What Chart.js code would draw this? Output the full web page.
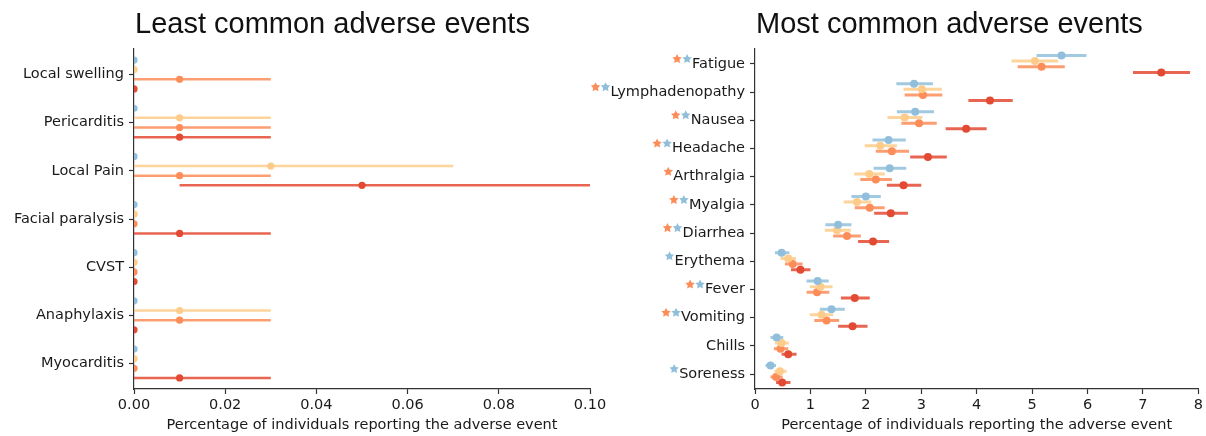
<!DOCTYPE html>
<html>
<head>
<meta charset="utf-8">
<script src="https://cdn.jsdelivr.net/npm/chart.js@4.4.1/dist/chart.umd.min.js"></script>
<style>
    html, body { margin: 0; padding: 0; background: #fff; }
    #wrap { position: relative; width: 1206px; height: 436px; overflow: hidden; }
    .panel { position: absolute; top: 0; }
    #leftPanel { left: 0; }
    #rightPanel { left: 580px; }
</style>
</head>
<body>
<div id="wrap">
    <div class="panel" id="leftPanel"><canvas id="leastChart" width="610" height="436"></canvas></div>
    <div class="panel" id="rightPanel"><canvas id="mostChart" width="626" height="436"></canvas></div>
</div>
<script>
// Least common adverse events (values = percentage, lo/hi = interval)
const leastCats = ['Local swelling', 'Pericarditis', 'Local Pain', 'Facial paralysis', 'CVST', 'Anaphylaxis', 'Myocarditis'];
const leastBlue     = [0, 0, 0, 0, 0, 0, 0];
const leastBlueLo   = [0, 0, 0, 0, 0, 0, 0];
const leastBlueHi   = [0, 0, 0, 0, 0, 0, 0];
const leastYellow   = [0, 0.01, 0.03, 0, 0, 0.01, 0];
const leastYellowLo = [0, 0, 0, 0, 0, 0, 0];
const leastYellowHi = [0, 0.03, 0.07, 0, 0, 0.03, 0];
const leastOrange   = [0.01, 0.01, 0.01, 0, 0, 0.01, 0];
const leastOrangeLo = [0, 0, 0, 0, 0, 0, 0];
const leastOrangeHi = [0.03, 0.03, 0.03, 0, 0, 0.03, 0];
const leastRed      = [0, 0.01, 0.05, 0.01, 0, 0, 0.01];
const leastRedLo    = [0, 0, 0.01, 0, 0, 0, 0];
const leastRedHi    = [0, 0.03, 0.10, 0.03, 0, 0, 0.03];
const leastTicks = [0, 0.02, 0.04, 0.06, 0.08, 0.10];

// Most common adverse events
const mostCats = ['Fatigue', 'Lymphadenopathy', 'Nausea', 'Headache', 'Arthralgia', 'Myalgia', 'Diarrhea', 'Erythema', 'Fever', 'Vomiting', 'Chills', 'Soreness'];
const mostBlue     = [5.53, 2.87, 2.89, 2.41, 2.43, 2.00, 1.50, 0.48, 1.13, 1.38, 0.39, 0.28];
const mostBlueLo   = [5.08, 2.55, 2.56, 2.12, 2.14, 1.74, 1.27, 0.36, 0.93, 1.17, 0.28, 0.19];
const mostBlueHi   = [5.98, 3.21, 3.23, 2.72, 2.73, 2.27, 1.74, 0.62, 1.33, 1.62, 0.51, 0.38];
const mostYellow   = [5.05, 3.01, 2.70, 2.26, 2.06, 1.84, 1.48, 0.60, 1.18, 1.20, 0.48, 0.45];
const mostYellowLo = [4.63, 2.68, 2.39, 1.98, 1.79, 1.60, 1.26, 0.46, 0.99, 0.99, 0.36, 0.35];
const mostYellowHi = [5.47, 3.37, 3.02, 2.56, 2.34, 2.10, 1.73, 0.74, 1.40, 1.41, 0.61, 0.57];
const mostOrange   = [5.17, 3.03, 2.96, 2.47, 2.18, 2.07, 1.66, 0.68, 1.12, 1.29, 0.46, 0.38];
const mostOrangeLo = [4.74, 2.70, 2.64, 2.18, 1.90, 1.80, 1.41, 0.54, 0.93, 1.07, 0.34, 0.28];
const mostOrangeHi = [5.59, 3.38, 3.28, 2.78, 2.47, 2.34, 1.91, 0.86, 1.34, 1.52, 0.60, 0.50];
const mostRed      = [7.33, 4.24, 3.81, 3.12, 2.68, 2.45, 2.13, 0.82, 1.80, 1.76, 0.60, 0.49];
const mostRedLo    = [6.82, 3.85, 3.44, 2.80, 2.38, 2.15, 1.86, 0.65, 1.55, 1.50, 0.48, 0.38];
const mostRedHi    = [7.85, 4.65, 4.18, 3.46, 3.00, 2.76, 2.42, 1.00, 2.07, 2.03, 0.75, 0.64];
const mostTicks = [0, 1, 2, 3, 4, 5, 6, 7, 8];
// significance stars next to the labels
const orangeStars = [1, 1, 1, 1, 1, 1, 1, 0, 1, 1, 0, 0];
const blueStars   = [1, 1, 1, 1, 0, 1, 1, 1, 1, 1, 0, 1];

const xTitle = 'Percentage of individuals reporting the adverse event';

const colors = ['#91bfdb', '#fdcc8a', '#fc8d59', '#e34a33'];
const lineColors = ['rgba(145,191,219,0.85)', 'rgba(253,204,138,0.85)', 'rgba(252,141,89,0.85)', 'rgba(227,74,51,0.85)'];
const offsets = [-0.3, -0.1, 0.1, 0.3];
const labelFont = { size: 14.5 };

Chart.defaults.font.family = '"DejaVu Sans", sans-serif';

function buildDatasets(means, los, his, lineWidth, radius, clip) {
    const datasets = [];
    means.forEach((mean, s) => {
        const bars = [];
        const points = [];
        mean.forEach((m, i) => {
            const y = i + offsets[s];
            if (his[s][i] > los[s][i]) {
                bars.push({ x: los[s][i], y: y }, { x: his[s][i], y: y }, { x: null, y: null });
            }
            points.push({ x: m, y: y });
        });
        datasets.push({
            data: bars, showLine: true, spanGaps: false,
            borderColor: lineColors[s], borderWidth: lineWidth,
            pointRadius: 0, order: 2, clip: clip
        });
        datasets.push({
            data: points, showLine: false,
            backgroundColor: colors[s], borderWidth: 0,
            pointRadius: radius, order: 1, clip: clip
        });
    });
    return datasets;
}

function buildScales(cats, tickValues, fmt, yWidth) {
    return {
        x: {
            type: 'linear',
            min: tickValues[0],
            max: tickValues[tickValues.length - 1],
            afterBuildTicks: scale => { scale.ticks = tickValues.map(v => ({ value: v })); },
            afterFit: scale => { scale.height = 47; },
            ticks: { font: labelFont, color: '#1a1a1a', padding: 3, maxRotation: 0, callback: v => fmt(v) },
            grid: { drawOnChartArea: false, drawTicks: true, tickLength: 5, tickColor: '#333', tickWidth: 1.2 },
            border: { color: '#333', width: 1.2 },
            title: { display: true, text: xTitle, font: labelFont, color: '#1a1a1a', padding: { top: 0, bottom: 2 } }
        },
        y: {
            type: 'linear',
            reverse: true,
            min: -0.53,
            max: cats.length - 0.47,
            afterBuildTicks: scale => { scale.ticks = cats.map((c, i) => ({ value: i })); },
            afterFit: scale => { scale.width = yWidth; },
            ticks: { font: labelFont, color: '#1a1a1a', padding: 5, callback: v => cats[v] },
            grid: { drawOnChartArea: false, drawTicks: true, tickLength: 5, tickColor: '#333', tickWidth: 1.2 },
            border: { color: '#333', width: 1.2 }
        }
    };
}

const titlePlugin = {
    id: 'panelTitle',
    afterDraw(chart, args, opts) {
        const ctx = chart.ctx;
        ctx.save();
        ctx.font = '29px "Liberation Sans", Arial, sans-serif';
        ctx.fillStyle = '#111';
        ctx.textBaseline = 'alphabetic';
        ctx.fillText(opts.text, chart.chartArea.left + 1, 33);
        ctx.restore();
    }
};

function drawStar(ctx, cx, cy, r, color) {
    ctx.beginPath();
    for (let k = 0; k < 10; k++) {
        const rad = k % 2 === 0 ? r : r * 0.5;
        const a = -Math.PI / 2 + k * Math.PI / 5;
        const px = cx + rad * Math.cos(a);
        const py = cy + rad * Math.sin(a);
        if (k === 0) ctx.moveTo(px, py); else ctx.lineTo(px, py);
    }
    ctx.closePath();
    ctx.fillStyle = color;
    ctx.fill();
}

const starPlugin = {
    id: 'stars',
    afterDraw(chart) {
        const yScale = chart.scales.y;
        const ctx = chart.ctx;
        ctx.save();
        ctx.font = '14.5px "DejaVu Sans"';
        const labelRight = yScale.right - 10;
        mostCats.forEach((c, i) => {
            const y = yScale.getPixelForValue(i) - 5;
            let x = labelRight - ctx.measureText(c).width - 5;
            if (blueStars[i]) { drawStar(ctx, x, y, 5, colors[0]); x -= 10; }
            if (orangeStars[i]) { drawStar(ctx, x, y, 5, colors[2]); }
        });
        ctx.restore();
    }
};

new Chart(document.getElementById('leastChart'), {
    type: 'scatter',
    data: {
        datasets: buildDatasets(
            [leastBlue, leastYellow, leastOrange, leastRed],
            [leastBlueLo, leastYellowLo, leastOrangeLo, leastRedLo],
            [leastBlueHi, leastYellowHi, leastOrangeHi, leastRedHi],
            2.5, 3.6, 0)
    },
    options: {
        responsive: false,
        animation: false,
        events: [],
        layout: { padding: { top: 49, right: 20, bottom: 0, left: 0 } },
        plugins: {
            legend: { display: false },
            tooltip: { enabled: false },
            panelTitle: { text: 'Least common adverse events' }
        },
        scales: buildScales(leastCats, leastTicks, v => v.toFixed(2), 134)
    },
    plugins: [titlePlugin]
});

new Chart(document.getElementById('mostChart'), {
    type: 'scatter',
    data: {
        datasets: buildDatasets(
            [mostBlue, mostYellow, mostOrange, mostRed],
            [mostBlueLo, mostYellowLo, mostOrangeLo, mostRedLo],
            [mostBlueHi, mostYellowHi, mostOrangeHi, mostRedHi],
            3, 4, false)
    },
    options: {
        responsive: false,
        animation: false,
        events: [],
        layout: { padding: { top: 49, right: 6, bottom: 0, left: 0 } },
        plugins: {
            legend: { display: false },
            tooltip: { enabled: false },
            panelTitle: { text: 'Most common adverse events' }
        },
        scales: buildScales(mostCats, mostTicks, v => String(v), 175)
    },
    plugins: [titlePlugin, starPlugin]
});
</script>
</body>
</html>
